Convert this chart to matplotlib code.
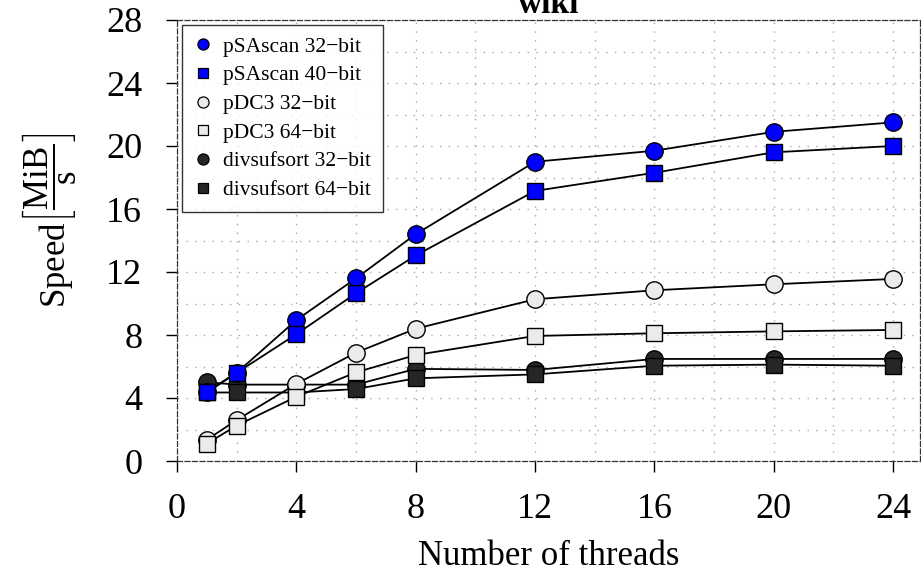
import matplotlib
matplotlib.use("Agg")
import matplotlib.pyplot as plt
from matplotlib.ticker import MultipleLocator

plt.rcParams['font.family'] = ['Liberation Serif', 'DejaVu Serif']
plt.rcParams['mathtext.fontset'] = 'custom'
plt.rcParams['mathtext.rm'] = 'Liberation Serif'
plt.rcParams['mathtext.it'] = 'Liberation Serif:italic'
plt.rcParams['mathtext.bf'] = 'Liberation Serif:bold'

threads = [1, 2, 4, 6, 8, 12, 16, 20, 24]
psascan_32 = [4.4, 5.6, 8.95, 11.6, 14.4, 19.0, 19.7, 20.9, 21.5]
psascan_40 = [4.35, 5.6, 8.05, 10.65, 13.05, 17.15, 18.3, 19.6, 20.0]
pdc3_32 = [1.35, 2.6, 4.9, 6.88, 8.4, 10.27, 10.84, 11.22, 11.56]
pdc3_64 = [1.1, 2.25, 4.08, 5.63, 6.73, 7.94, 8.11, 8.23, 8.32]
divsufsort_32 = [5.0, 4.85, 4.85, 4.85, 5.85, 5.78, 6.48, 6.48, 6.48]
divsufsort_64 = [4.35, 4.35, 4.35, 4.57, 5.25, 5.5, 6.05, 6.12, 6.05]

labels = ["pSAscan 32\u2212bit", "pSAscan 40\u2212bit", "pDC3 32\u2212bit",
          "pDC3 64\u2212bit", "divsufsort 32\u2212bit", "divsufsort 64\u2212bit"]
series = [psascan_32, psascan_40, pdc3_32, pdc3_64, divsufsort_32, divsufsort_64]
colors = ["#0000FF", "#0000FF", "#EBEBEB", "#EBEBEB", "#262626", "#262626"]
markers = ["o", "s", "o", "s", "o", "s"]
sizes = [12.5, 11.0, 12.5, 11.0, 12.5, 11.0]
zorders = [8, 9, 6, 7, 4, 5]

fig = plt.figure(figsize=(9.21, 5.74), dpi=100)
ax = fig.add_axes([177/921, 1 - 461/574, (920 - 177)/921, (461 - 20)/574])

handles = []
for ys, c, m, s, z, lab in zip(series, colors, markers, sizes, zorders, labels):
    ax.plot(threads, ys, color='black', lw=1.3, zorder=z)
    ax.plot(threads, ys, linestyle='none', marker=m, markersize=s,
            markerfacecolor=c, markeredgecolor='black', markeredgewidth=1.0,
            zorder=z + 0.5)
    h, = ax.plot([], [], linestyle='none', marker=m, markersize=s * 0.64,
                 markerfacecolor=c, markeredgecolor='black', markeredgewidth=0.9,
                 label=lab)
    handles.append(h)

ax.set_xlim(0, 24.9)
ax.set_ylim(0, 28)
ax.xaxis.set_minor_locator(MultipleLocator(2))
ax.yaxis.set_minor_locator(MultipleLocator(2))
ax.set_xticks([0, 4, 8, 12, 16, 20, 24])
ax.set_yticks([0, 4, 8, 12, 16, 20, 24, 28])
ax.grid(which='both', color='#A8A8A8', linestyle=(0, (1, 5.3)), lw=1.0)
ax.set_axisbelow(True)
ax.tick_params(which='minor', length=0)
ax.tick_params(which='major', direction='out', length=8, width=1.0,
               labelsize=26, color='black')
ax.tick_params(axis='x', pad=15)
ax.tick_params(axis='y', pad=17)

for sp in ax.spines.values():
    sp.set_linestyle((0, (4, 2)))
    sp.set_color('#333333')
    sp.set_linewidth(0.9)

ax.set_xlabel("Number of threads", fontsize=25, labelpad=10)
fig.text(49/921, 1 - 220/574, r'Speed$\left[\dfrac{\mathrm{MiB}}{\mathrm{s}}\right]$',
         fontsize=25, rotation=90, ha='center', va='center')
ax.set_title("wiki", fontsize=24, fontweight='bold', pad=4)

leg = ax.legend(handles=handles, loc='upper left', bbox_to_anchor=(0.007, 0.989),
                fontsize=15.5, frameon=True, fancybox=False, borderpad=0.55,
                labelspacing=0.4, handlelength=0.8, handletextpad=0.55,
                borderaxespad=0.0)
leg.get_frame().set_edgecolor('black')
leg.get_frame().set_linewidth(1.0)
leg.set_zorder(20)

fig.savefig("out.png", dpi=100)
